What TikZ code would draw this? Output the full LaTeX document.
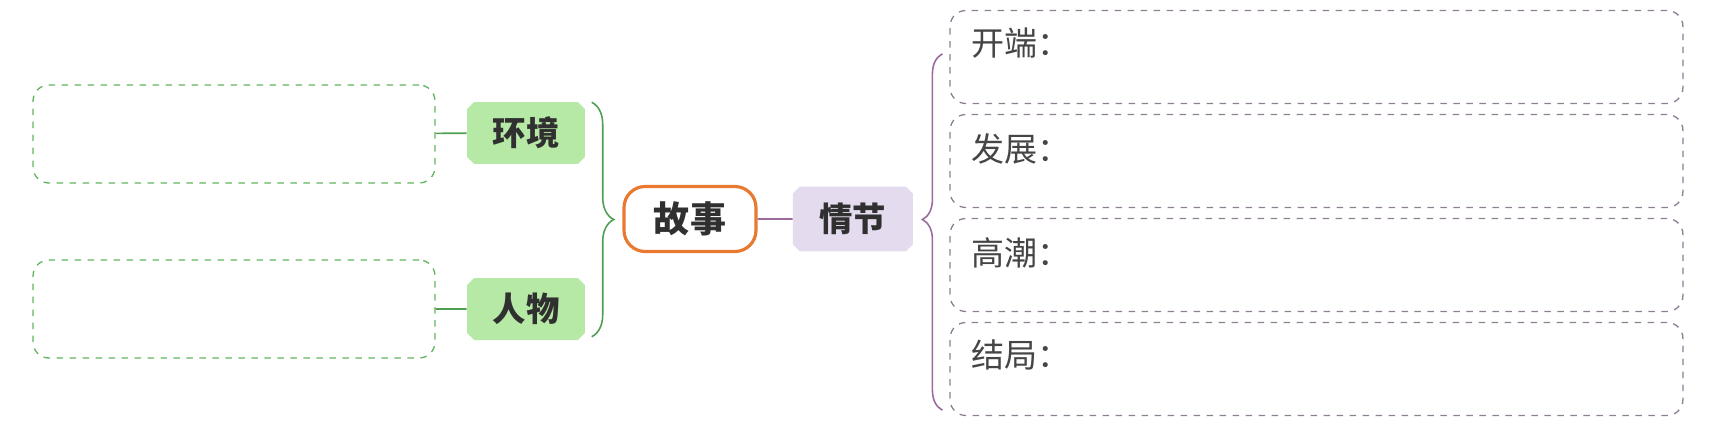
\documentclass[tikz,border=0pt]{standalone}
\usepackage{fontspec}
\usetikzlibrary{positioning, shapes.misc, decorations.pathreplacing}
\newfontfamily\cjk{Noto Sans CJK SC}
\definecolor{envGreen}{HTML}{B6E9A6}
\definecolor{lineGreen}{HTML}{4F9F52}
\definecolor{dashGreen}{HTML}{62B560}
\definecolor{storyOrange}{HTML}{E8792E}
\definecolor{plotLilac}{HTML}{E4DBEE}
\definecolor{linePurple}{HTML}{9A6B9C}
\definecolor{dashPurple}{HTML}{8F7F93}
\definecolor{textDark}{HTML}{303030}
\definecolor{textGray}{HTML}{454545}
\tikzset{
  tagG/.style={chamfered rectangle, chamfered rectangle xsep=2pt, chamfered rectangle ysep=2pt,
               fill=envGreen, text=textDark, font=\cjk\bfseries\fontsize{19pt}{22pt}\selectfont,
               minimum width=2.36cm, minimum height=1.24cm, inner sep=0pt},
  tagP/.style={tagG, fill=plotLilac, minimum width=2.4cm, minimum height=1.3cm},
  storyBox/.style={rectangle, rounded corners=12pt, draw=storyOrange, line width=1.8pt,
                   text=textDark, font=\cjk\bfseries\fontsize{20.5pt}{24pt}\selectfont,
                   minimum width=2.64cm, minimum height=1.3cm},
  blankG/.style={rectangle, rounded corners=9pt, draw=dashGreen, line width=0.75pt,
                 dash pattern=on 0.13cm off 0.13cm, minimum width=8.04cm, minimum height=1.96cm},
  stageBox/.style={rectangle, rounded corners=9pt, draw=dashPurple, line width=0.75pt,
                   dash pattern=on 0.13cm off 0.13cm, minimum width=14.66cm, minimum height=1.86cm},
  stageText/.style={text=textGray, font=\cjk\fontsize{18.8pt}{22pt}\selectfont, inner sep=0pt, anchor=west},
  lineG/.style={lineGreen, line width=0.9pt},
  lineP/.style={linePurple, line width=0.9pt},
  braceG/.style={lineGreen, line width=0.9pt, decorate, decoration={brace, amplitude=0.44cm, aspect=0.5}},
  braceP/.style={linePurple, line width=0.9pt, decorate, decoration={brace, amplitude=0.4cm, aspect=0.535}},
}
\begin{document}
\begin{tikzpicture}[x=0.02cm, y=-0.02cm, font=\cjk, node distance=0.7cm]
  \useasboundingbox (0,0) rectangle (1722,430);
  % centre
  \node[storyBox] (story) at (690,219) {故事};
  \node[tagP, right=of story] (plot) {情节};
  % left side
  \node[tagG] (env) at (526,133) {环境};
  \node[tagG] (per) at (526,309) {人物};
  \node[blankG] (envbox) at (234,134) {};
  \node[blankG] (perbox) at (234,309) {};
  \draw[lineG] (envbox) -- (env);
  \draw[lineG] (perbox) -- (per);
  \draw[braceG] ([shift={(10,-3)}]env.north east) -- ([shift={(10,0)}]per.south east);
  \draw[lineP] (story) -- (plot);
  % right side
  \node[stageBox] (s1) at (1316.5,57) {};
  \node[stageBox] (s2) at (1316.5,161) {};
  \node[stageBox] (s3) at (1316.5,265) {};
  \node[stageBox] (s4) at (1316.5,369) {};
  \node[stageText] (t1) at ([shift={(22,33)}]s1.north west) {开端：};
  \node[stageText] (t2) at ([shift={(22,35)}]s2.north west) {发展：};
  \node[stageText] (t3) at ([shift={(22,35)}]s3.north west) {高潮：};
  \node[stageText] (t4) at ([shift={(22,33)}]s4.north west) {结局：};
  \draw[braceP] ([shift={(-7,-6)}]s4.south west) -- ([shift={(-7,44)}]s1.north west);
\end{tikzpicture}
\end{document}
